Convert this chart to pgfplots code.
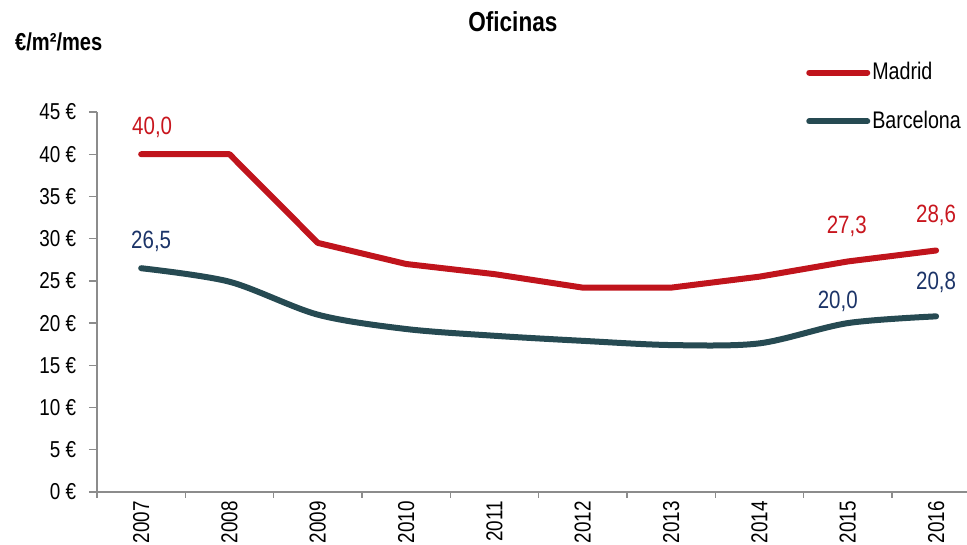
\documentclass[border=0pt]{standalone}
\usepackage{fontspec}
\setmainfont{Liberation Sans}[FakeStretch=0.82]
\usepackage{pgfplots}
\usepackage{pgfplotstable}
\pgfplotsset{compat=1.18}

\definecolor{madrid}{HTML}{C0141C}
\definecolor{barna}{HTML}{264A52}
\definecolor{madlbl}{HTML}{C8161E}
\definecolor{barlbl}{HTML}{1C3468}
\definecolor{axgray}{HTML}{8C8C8C}

% Renta media de oficinas (euros/m2/mes)
\pgfplotstableread{
x madrid barcelona
0 40.0 26.5
1 40.0 24.9
2 29.5 21.0
3 27.0 19.3
4 25.8 18.5
5 24.2 17.9
6 24.2 17.4
7 25.5 17.6
8 27.3 20.0
9 28.6 20.8
}\rentas

\begin{document}
\fontsize{23pt}{27pt}\selectfont
\begin{tikzpicture}
\begin{axis}[
  at={(0,0)}, anchor=south west,
  scale only axis, width=870pt, height=380pt,
  xmin=-0.5, xmax=9.35, ymin=0, ymax=45,
  axis x line=bottom, axis y line=left,
  axis line style={axgray, line width=1.3pt, -},
  xtick={0,...,9},
  xticklabels={2007,2008,2009,2010,2011,2012,2013,2014,2015,2016},
  minor xtick={-0.5,0.5,...,8.5},
  major x tick style={draw=none},
  minor x tick style={axgray, line width=1.3pt},
  ytick={0,5,...,45},
  y tick style={axgray, line width=1.3pt},
  tick align=outside, major tick length=8pt, minor tick length=6pt,
  /pgf/number format/assume math mode=true,
  yticklabel={\pgfmathprintnumber{\tick}~€},
  y tick label style={font=\fontsize{23pt}{27pt}\selectfont, xshift=-5pt},
  x tick label style={rotate=90, anchor=east, inner sep=1pt, font=\fontsize{23pt}{27pt}\selectfont},
  clip=false,
  legend style={at={(rel axis cs:0.815,1.137)}, anchor=north west, draw=none, fill=none,
    font=\fontsize{24pt}{28pt}\selectfont, row sep=24pt, inner sep=0pt,
    /tikz/every even column/.append style={column sep=5pt},
    legend cell align=left},
  legend image code/.code={\draw[#1, line width=6pt, line cap=round] (0pt,0pt) -- (58pt,0pt);},
]
\addplot[madrid, line width=6pt, line join=round, line cap=round] table[x=x, y=madrid] {\rentas};
\addlegendentry{Madrid}
\addplot[barna, line width=6pt, smooth, tension=0.5, line cap=round] table[x=x, y=barcelona] {\rentas};
\addlegendentry{Barcelona}

% etiquetas de valor
\begin{scope}[every node/.style={font=\fontsize{25pt}{29pt}\selectfont, anchor=center}]
\node[madlbl] at (axis cs:0,40.0) [xshift=11pt, yshift=27pt] {40,0};
\node[barlbl] at (axis cs:0,26.5) [xshift=10pt, yshift=27pt] {26,5};
\node[madlbl] at (axis cs:8,27.3) [xshift=-1pt, yshift=35pt] {27,3};
\node[madlbl] at (axis cs:9,28.6) [yshift=35pt] {28,6};
\node[barlbl] at (axis cs:8,20.0) [xshift=-10pt, yshift=22pt] {20,0};
\node[barlbl] at (axis cs:9,20.8) [yshift=34pt] {20,8};
\end{scope}

\node[font=\bfseries\fontsize{27.5pt}{32pt}\selectfont] at (rel axis cs:0.478,1) [yshift=90pt] {Oficinas};
\node[font=\bfseries\fontsize{24.5pt}{29pt}\selectfont, anchor=west, inner sep=0pt] at (rel axis cs:0,1) [xshift=-82pt, yshift=70pt] {€/m²/mes};
\end{axis}
\pgfresetboundingbox
\path[use as bounding box] (-97pt,-53pt) rectangle (870pt,492pt);
\end{tikzpicture}
\end{document}
